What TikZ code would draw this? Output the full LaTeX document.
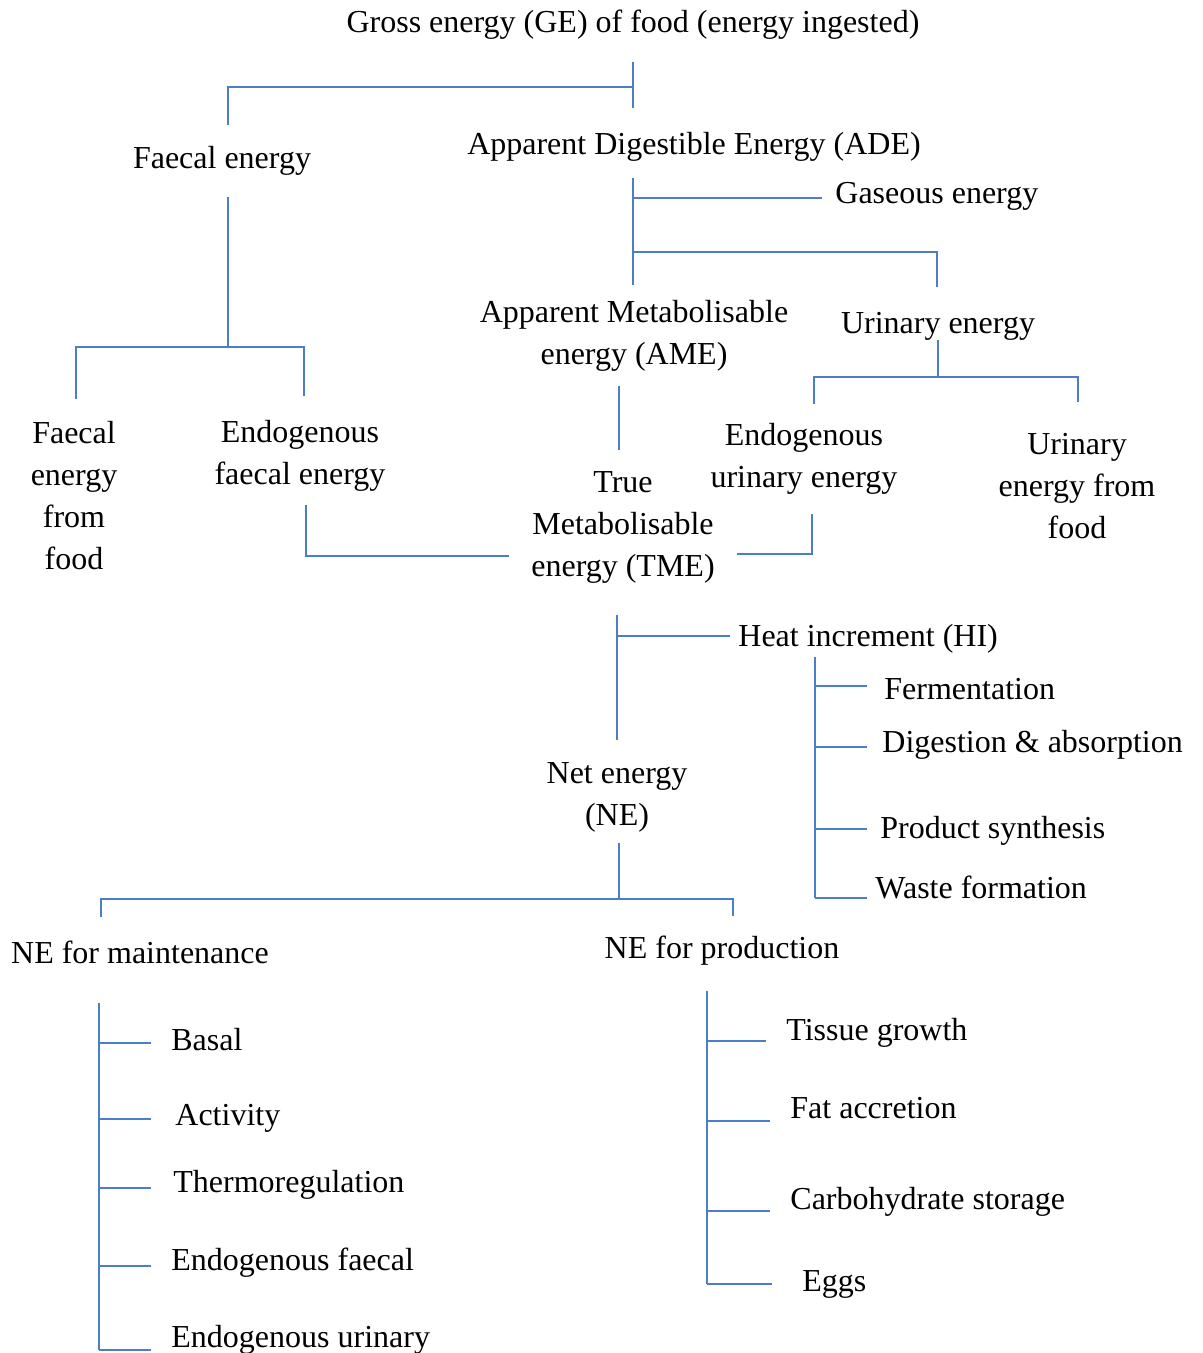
\documentclass[tikz,border=0pt]{standalone}
\usepackage{fontspec}
\setmainfont{Liberation Serif}
\definecolor{linkblue}{RGB}{74,126,198}
\begin{document}
\begin{tikzpicture}[x=0.5pt,y=-0.5pt,
    link/.style={draw=linkblue,line width=1pt},
    lbl/.style={inner sep=0pt,align=center,font=\fontsize{16}{21}\selectfont},
    item/.style={lbl,anchor=west,text height=0.66em,text depth=0pt}]
  \useasboundingbox (0,0) rectangle (1203,1353);

  \node[lbl] (ge) at (633,25) {Gross energy (GE) of food (energy ingested)};
  \node[lbl] (fe) at (222,161) {Faecal energy};
  \node[lbl] (ade) at (694,147) {Apparent Digestible Energy (ADE)};
  \node[item] (gas) at (835,197) {Gaseous energy};
  \node[lbl] (ame) at (634,336) {Apparent Metabolisable\\energy (AME)};
  \node[lbl] (ue) at (938,326) {Urinary energy};
  \node[lbl] (ff) at (74,496) {Faecal\\energy\\from\\food};
  \node[lbl] (ef) at (300,456) {Endogenous\\faecal energy};
  \node[lbl] (eu) at (804,459) {Endogenous\\urinary energy};
  \node[lbl] (uf) at (1077,486) {Urinary\\energy from\\food};
  \node[lbl] (tme) at (623,527) {True\\Metabolisable\\energy (TME)};
  \node[item] (hi) at (738,640) {Heat increment (HI)};
  \node[lbl] (ne) at (617,797) {Net energy\\(NE)};
  \node[lbl] (nem) at (140,952) {NE for maintenance};
  \node[lbl] (nep) at (722,951) {NE for production};

  \coordinate (ge-a) at (633,62);   \coordinate (ge-b) at (633,108);
  \coordinate (ge-j) at (633,87);   \coordinate (fe-a) at (228,125);
  \draw[link] (ge-a) -- (ge-b) (ge-j) -| (fe-a);

  \coordinate (ade-a) at (633,178); \coordinate (ade-b) at (633,285);
  \coordinate (gas-j) at (633,198); \coordinate (gas-a) at (822,198);
  \coordinate (ue-j) at (633,252);  \coordinate (ue-a) at (937,287);
  \draw[link] (ade-a) -- (ade-b) (gas-j) -- (gas-a) (ue-j) -| (ue-a);

  \coordinate (fe-b) at (228,197);  \coordinate (fe-j) at (228,347);
  \coordinate (ff-a) at (76,399);   \coordinate (ef-a) at (304,396);
  \draw[link] (fe-b) -- (fe-j) (ff-a) |- (fe-j) -| (ef-a);

  \coordinate (ue-b) at (938,340);  \coordinate (ue-c) at (938,377);
  \coordinate (eu-a) at (814,404);  \coordinate (uf-a) at (1078,402);
  \draw[link] (ue-b) -- (ue-c) (eu-a) |- (ue-c) -| (uf-a);

  \coordinate (ame-a) at (619,386); \coordinate (tme-a) at (619,450);
  \draw[link] (ame-a) -- (tme-a);

  \coordinate (ef-b) at (306,505);  \coordinate (tme-l) at (509,556);
  \coordinate (eu-b) at (812,514);  \coordinate (tme-r) at (737,554);
  \draw[link] (ef-b) |- (tme-l) (eu-b) |- (tme-r);

  \coordinate (tme-b) at (617,615); \coordinate (ne-a) at (617,740);
  \coordinate (hi-j) at (617,636);  \coordinate (hi-a) at (730,636);
  \draw[link] (tme-b) -- (ne-a) (hi-j) -- (hi-a);

  \coordinate (hi-b) at (815,657);  \coordinate (hi-c) at (815,898);
  \draw[link] (hi-b) -- (hi-c);
  \foreach \ty/\ly/\tx/\t/\n in {693/686/884/Fermentation/ferm,
      746/747/882/Digestion \& absorption/dig,
      832/829/880/Product synthesis/prod,
      892/898/875/Waste formation/waste} {
    \node[item] (\n) at (\tx,\ty) {\t};
    \coordinate (\n-a) at (815,\ly); \coordinate (\n-b) at (867,\ly);
    \draw[link] (\n-a) -- (\n-b);
  }

  \coordinate (ne-b) at (619,843);  \coordinate (ne-j) at (619,899);
  \coordinate (nem-a) at (101,917); \coordinate (nep-a) at (733,916);
  \draw[link] (ne-b) -- (ne-j) (nem-a) |- (ne-j) -| (nep-a);

  \coordinate (nem-b) at (99,1003); \coordinate (nem-c) at (99,1350);
  \draw[link] (nem-b) -- (nem-c);
  \foreach \ty/\ly/\tx/\t/\n in {1044/1043/171/Basal/bas,
      1119/1119/175/Activity/act,
      1186/1188/173/Thermoregulation/therm,
      1264/1266/171/Endogenous faecal/endf,
      1341/1350/171/Endogenous urinary/endu} {
    \node[item] (\n) at (\tx,\ty) {\t};
    \coordinate (\n-a) at (99,\ly); \coordinate (\n-b) at (151,\ly);
    \draw[link] (\n-a) -- (\n-b);
  }

  \coordinate (nep-b) at (707,991); \coordinate (nep-c) at (707,1284);
  \draw[link] (nep-b) -- (nep-c);
  \foreach \ty/\ly/\tx/\xe/\t/\n in {1034/1041/786/766/Tissue growth/tis,
      1112/1121/790/770/Fat accretion/fat,
      1203/1211/790/770/Carbohydrate storage/carb,
      1285/1284/802/772/Eggs/egg} {
    \node[item] (\n) at (\tx,\ty) {\t};
    \coordinate (\n-a) at (707,\ly); \coordinate (\n-b) at (\xe,\ly);
    \draw[link] (\n-a) -- (\n-b);
  }
\end{tikzpicture}
\end{document}
